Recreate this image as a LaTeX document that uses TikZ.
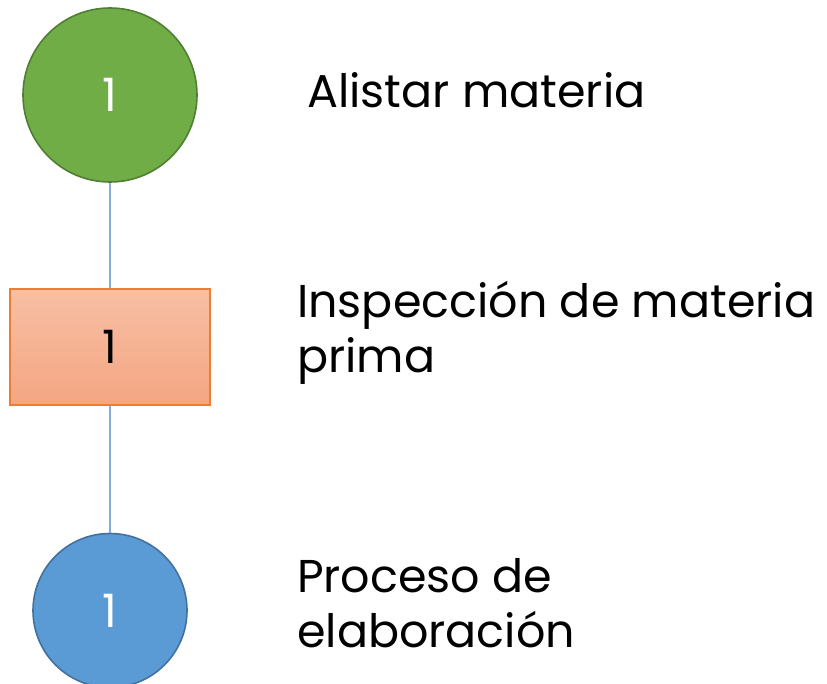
\documentclass[tikz,border=0pt]{standalone}
\usepackage{fontspec}
\setmainfont{Poppins}
\definecolor{gfill}{HTML}{70AD47}
\definecolor{gdraw}{HTML}{507E32}
\definecolor{bfill}{HTML}{5B9BD5}
\definecolor{bdraw}{HTML}{41719C}
\definecolor{otop}{HTML}{F7BFA4}
\definecolor{obot}{HTML}{F4A682}
\definecolor{odraw}{HTML}{ED7D31}
\definecolor{lnk}{HTML}{7FAEDD}
\begin{document}
\begin{tikzpicture}[x=1pt,y=-1pt,
  numtext/.style={font=\fontsize{46}{46}\selectfont},
  lbl/.style={anchor=base west,inner sep=0pt,font=\fontsize{46}{55}\selectfont},
  link/.style={draw=lnk,line width=1.2pt}]
\useasboundingbox (0,0) rectangle (827,684);
\node[circle,draw=gdraw,line width=1.6pt,fill=gfill,minimum size=174pt,inner sep=0pt,text=white,numtext] (c1) at (110,95) {1};
\node[rectangle,draw=odraw,line width=1.4pt,top color=otop,bottom color=obot,minimum width=200pt,minimum height=116pt,inner sep=0pt,numtext] (r1) at (110,347) {1};
\node[circle,draw=bdraw,line width=1.6pt,fill=bfill,minimum size=154pt,inner sep=0pt,text=white,numtext] (c2) at (110,610.5) {1};
\draw[link] (c1.south) -- (r1.north);
\draw[link] (r1.south) -- (c2.north);
\node[lbl] (t1) at (307,108) {Alistar materia};
\node[lbl] (t2a) at (297,318) {Inspección de materia};
\node[lbl] (t2b) at (297,373) {prima};
\node[lbl] (t3a) at (297,592) {Proceso de};
\node[lbl] (t3b) at (297,647) {elaboración};
\end{tikzpicture}
\end{document}
